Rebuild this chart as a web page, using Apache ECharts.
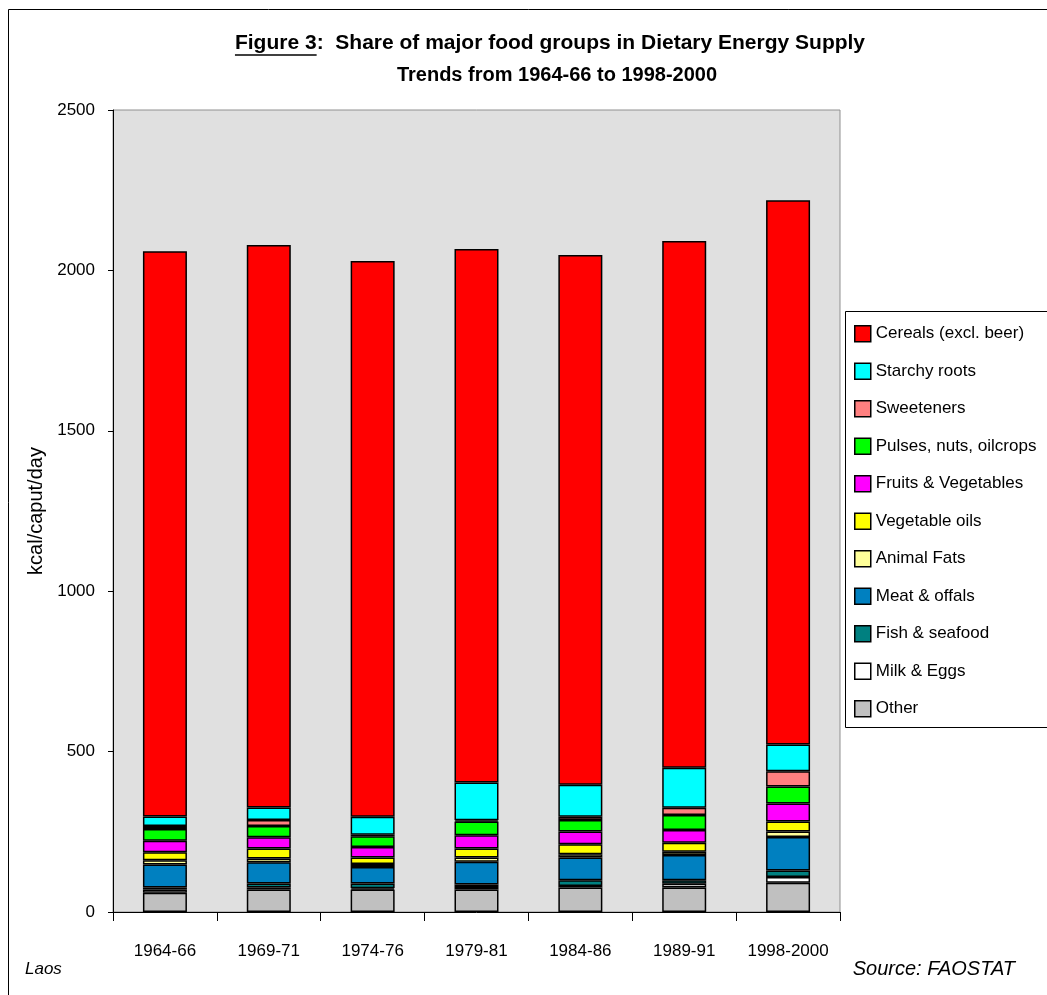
<!DOCTYPE html>
<html><head><meta charset="utf-8">
<script src="https://cdn.jsdelivr.net/npm/echarts@6/dist/echarts.min.js"></script>
<style>html,body{margin:0;padding:0;background:#fff}#c{width:1047px;height:995px}</style>
</head><body><div id="c"></div>
<script>
const categories = ['1964-66','1969-71','1974-76','1979-81','1984-86','1989-91','1998-2000'];
const other      = [60, 70, 70, 70, 76, 76, 91];
const milkEggs   = [10, 6, 4, 8, 5, 12, 18];
const fish       = [6, 13, 15, 8, 18, 11, 20];
const meat       = [72, 66, 51, 71, 71, 79, 105];
const animalFats = [13, 12, 10, 13, 10, 10, 17];
const vegOils    = [25, 31, 20, 28, 31, 28, 31];
const fruitsVeg  = [36, 35, 33, 41, 40, 40, 56];
const pulses     = [37, 35, 33, 43, 36, 46, 53];
const sweeteners = [9, 19, 5, 4, 10, 23, 48];
const starchy    = [30, 39, 56, 118, 100, 125, 83];
const cereals    = [1762, 1753, 1732, 1663, 1651, 1642, 1697];
const yTicks = {min: 0, max: 2500, interval: 500};

const FONT = 'Liberation Sans, Arial, sans-serif';
const seriesDefs = [
  ['Other', other, '#C0C0C0'],
  ['Milk & Eggs', milkEggs, '#FFFFFF'],
  ['Fish & seafood', fish, '#008080'],
  ['Meat & offals', meat, '#0080C0'],
  ['Animal Fats', animalFats, '#FFFF99'],
  ['Vegetable oils', vegOils, '#FFFF00'],
  ['Fruits & Vegetables', fruitsVeg, '#FF00FF'],
  ['Pulses, nuts, oilcrops', pulses, '#00FF00'],
  ['Sweeteners', sweeteners, '#FF8080'],
  ['Starchy roots', starchy, '#00FFFF'],
  ['Cereals (excl. beer)', cereals, '#FF0000']
];

// measure title for underline
const TFONT1 = 'bold 21px ' + FONT;
const cv = document.createElement('canvas').getContext('2d');
cv.font = TFONT1;
const line1 = 'Figure 3:  Share of major food groups in Dietary Energy Supply';
const fullW = cv.measureText(line1).width;
const figW = cv.measureText('Figure 3').width;
const title1Cx = 550;
const ulStart = title1Cx - fullW / 2;

const chart = echarts.init(document.getElementById('c'), null, {renderer: 'canvas'});
chart.setOption({
  animation: false,
  backgroundColor: '#fff',
  textStyle: {fontFamily: FONT},
  grid: {left: 113, right: 207, top: 110, bottom: 83, show: true,
         backgroundColor: '#E0E0E0', borderColor: '#909090', borderWidth: 1},
  legend: {
    orient: 'vertical', left: 854, top: 325, padding: 0,
    itemWidth: 16, itemHeight: 16, itemGap: 20, icon: 'rect',
    itemStyle: {borderColor: '#000', borderWidth: 1.5},
    textStyle: {fontSize: 17, color: '#000', lineHeight: 17, fontFamily: FONT},
    data: seriesDefs.map(d => d[0]).reverse(),
    selectedMode: false
  },
  xAxis: {
    type: 'category', data: categories,
    axisLine: {show: true, lineStyle: {color: '#000', width: 1}},
    axisTick: {show: true, interval: 0, alignWithLabel: false, length: 9, lineStyle: {color: '#000'}},
    axisLabel: {interval: 0, hideOverlap: false, fontSize: 17, color: '#000', margin: 31, fontFamily: FONT},
    splitLine: {show: false}
  },
  yAxis: {
    type: 'value', min: yTicks.min, max: yTicks.max, interval: yTicks.interval,
    name: 'kcal/caput/day', nameLocation: 'middle', nameGap: 61,
    nameTextStyle: {fontSize: 20, color: '#000', fontFamily: FONT},
    axisLine: {show: true, lineStyle: {color: '#000', width: 1}},
    axisTick: {show: true, length: 5, lineStyle: {color: '#000'}},
    axisLabel: {fontSize: 17, color: '#000', margin: 18, fontFamily: FONT,
                formatter: v => String(v)},
    splitLine: {show: false}
  },
  series: seriesDefs.map(d => ({
    name: d[0], type: 'bar', stack: 'total', data: d[1], barWidth: 44,
    itemStyle: {color: d[2], borderColor: '#000', borderWidth: 1.5},
    emphasis: {disabled: true}
  })),
  graphic: [
    {type: 'rect', z: -10, shape: {x: 8.5, y: 9.5, width: 1100, height: 1100},
     style: {fill: '#fff', stroke: '#000', lineWidth: 1}},
    {type: 'rect', z: 0, shape: {x: 845.5, y: 311.5, width: 300, height: 416},
     style: {fill: '#fff', stroke: '#000', lineWidth: 1}},
    {type: 'text', x: title1Cx, y: 43, style: {text: line1, font: TFONT1,
     fill: '#000', textAlign: 'center', textVerticalAlign: 'middle'}},
    {type: 'line', shape: {x1: ulStart, y1: 55, x2: ulStart + figW, y2: 55},
     style: {stroke: '#000', lineWidth: 1.5}},
    {type: 'text', x: 557, y: 75, style: {text: 'Trends from 1964-66 to 1998-2000',
     font: 'bold 20px ' + FONT, fill: '#000', textAlign: 'center', textVerticalAlign: 'middle'}},
    {type: 'text', x: 25, y: 969, style: {text: 'Laos', font: 'italic 17px ' + FONT,
     fill: '#000', textAlign: 'left', textVerticalAlign: 'middle'}},
    {type: 'text', x: 1015, y: 969, style: {text: 'Source: FAOSTAT', font: 'italic 20px ' + FONT,
     fill: '#000', textAlign: 'right', textVerticalAlign: 'middle'}}
  ]
});
</script></body></html>
